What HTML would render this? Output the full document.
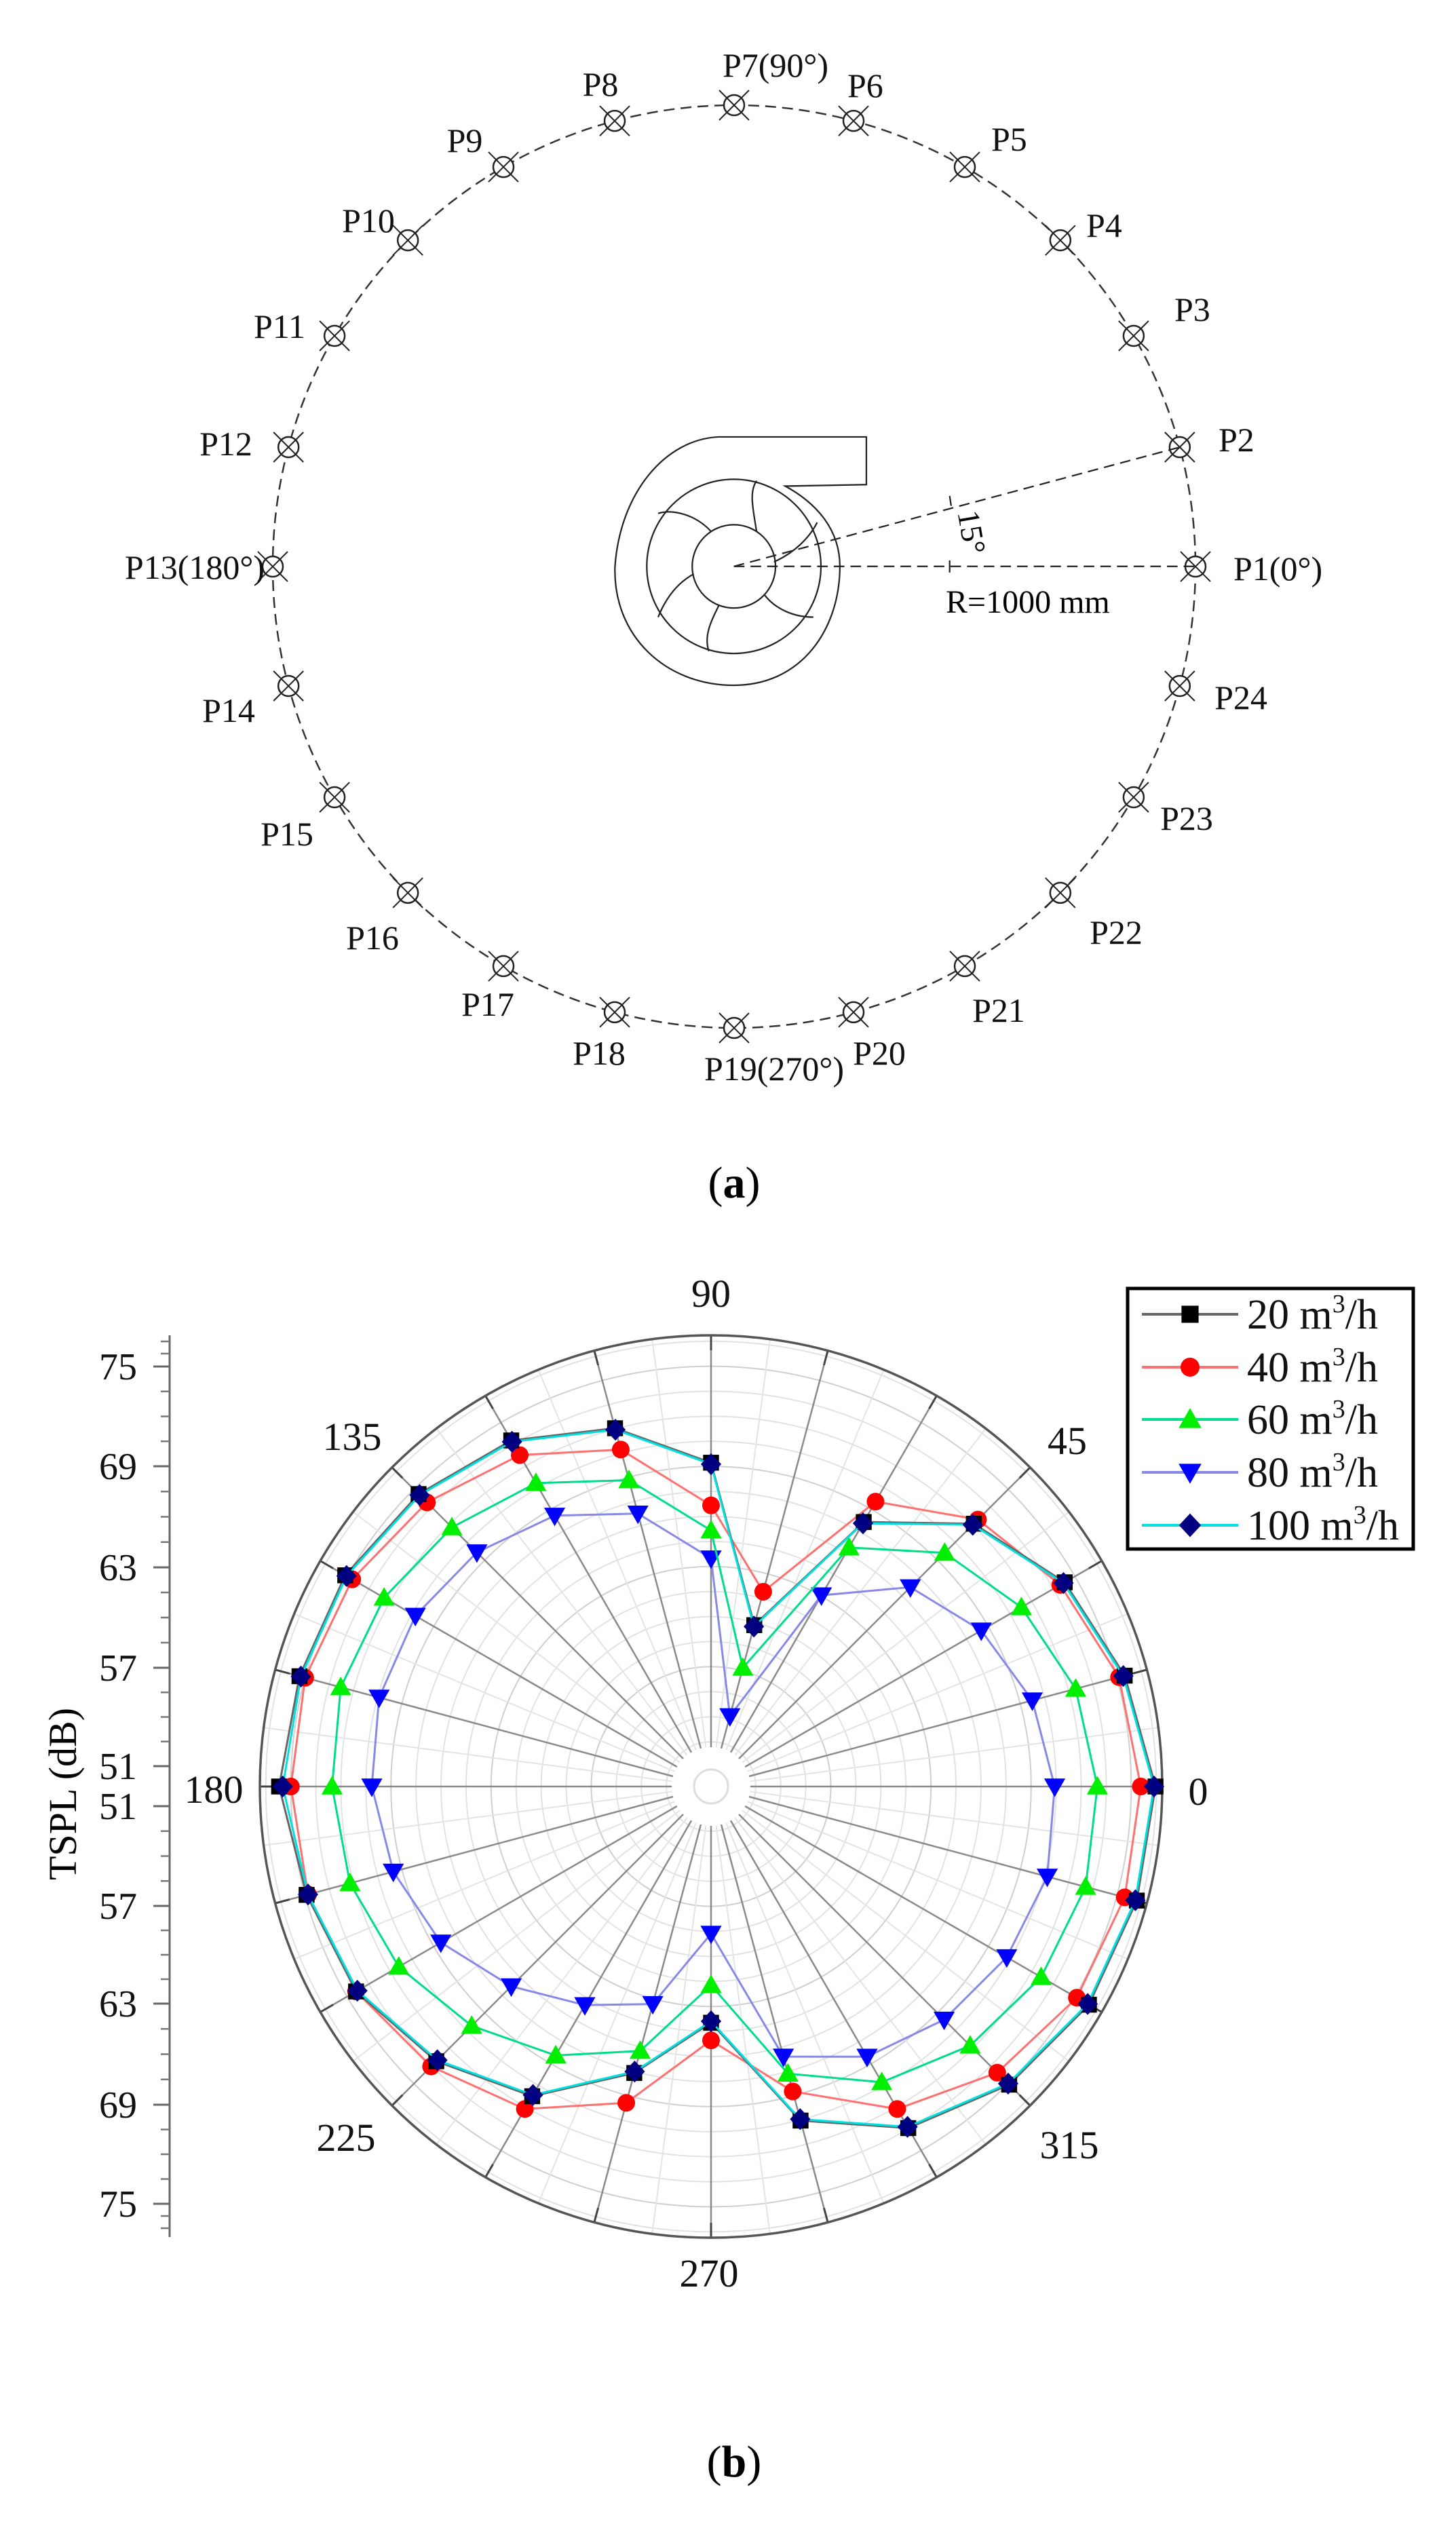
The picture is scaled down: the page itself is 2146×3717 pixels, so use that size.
<!DOCTYPE html>
<html><head><meta charset="utf-8"><style>
html,body{margin:0;padding:0;background:#fff}
svg{display:block}
</style></head><body>
<svg id="s" width="2146" height="3717" viewBox="0 0 2146 3717" xmlns="http://www.w3.org/2000/svg" font-family="Liberation Serif, serif">
<rect width="2146" height="3717" fill="#fff"/>
<g id="topg"></g>
<g transform="translate(200,0) scale(1.116)" fill="none" stroke="#222" stroke-width="2">
  <path d="M965,577 L770,577 C700,580 640,650 633,748 C630,840 700,905 790,905 C880,905 930,830 930,748 C930,700 900,665 858,642 L965,640 Z"/>
  <circle cx="790" cy="748" r="115"/>
  <circle cx="790" cy="748" r="55"/>
  <path d="M820,702 C815,670 810,650 820,635"/>
  <path d="M760,702 C740,680 710,672 690,678"/>
  <path d="M737,758 C715,770 700,790 690,815"/>
  <path d="M770,800 C760,820 750,840 757,860"/>
  <path d="M830,785 C845,805 870,815 895,815"/>
  <path d="M843,742 C870,730 890,710 900,690"/>
  <path d="M790,748 L1400,748" stroke-dasharray="14 8"/>
  <path d="M790,748 L1381,590" stroke-dasharray="14 8"/>
  <path d="M1075,655 L1077,668 M1075,740 L1075,756" />
</g>
<text x="1417" y="787" font-size="46" text-anchor="middle" transform="rotate(80 1417 787)">15°</text>
<text x="1394" y="903" font-size="48">R=1000 mm</text>
<g font-size="50" fill="#111">
<text x="1818" y="855">P1(0°)</text>
<text x="1796" y="665">P2</text>
<text x="1731" y="473">P3</text>
<text x="1601" y="349">P4</text>
<text x="1461" y="222">P5</text>
<text x="1249" y="143">P6</text>
<text x="1143" y="113" text-anchor="middle">P7(90°)</text>
<text x="885" y="141" text-anchor="middle">P8</text>
<text x="685" y="224" text-anchor="middle">P9</text>
<text x="543" y="342" text-anchor="middle">P10</text>
<text x="412" y="498" text-anchor="middle">P11</text>
<text x="333" y="671" text-anchor="middle">P12</text>
<text x="390" y="853" text-anchor="end">P13(180°)</text>
<text x="337" y="1064" text-anchor="middle">P14</text>
<text x="423" y="1246" text-anchor="middle">P15</text>
<text x="549" y="1399" text-anchor="middle">P16</text>
<text x="719" y="1497" text-anchor="middle">P17</text>
<text x="883" y="1569" text-anchor="middle">P18</text>
<text x="1141" y="1592" text-anchor="middle">P19(270°)</text>
<text x="1296" y="1569" text-anchor="middle">P20</text>
<text x="1472" y="1506" text-anchor="middle">P21</text>
<text x="1645" y="1391" text-anchor="middle">P22</text>
<text x="1749" y="1223" text-anchor="middle">P23</text>
<text x="1829" y="1045" text-anchor="middle">P24</text>
</g>
<text x="1082" y="1765" font-size="66" text-anchor="middle">(<tspan font-weight="bold">a</tspan>)</text>

<g id="grid"></g>
<g id="series"></g>
<g font-size="58" text-anchor="middle" fill="#111">
<text x="1048" y="1926">90</text>
<text x="1573" y="2143">45</text>
<text x="1766" y="2660">0</text>
<text x="519" y="2137">135</text>
<text x="315" y="2657">180</text>
<text x="510" y="3170">225</text>
<text x="1045" y="3370">270</text>
<text x="1576" y="3181">315</text>
</g>
<g id="axis"></g>
<g font-size="56" text-anchor="end" fill="#111">
<text x="202" y="2033">75</text>
<text x="202" y="2180">69</text>
<text x="202" y="2329">63</text>
<text x="202" y="2477">57</text>
<text x="202" y="2622">51</text>
<text x="202" y="2681">51</text>
<text x="202" y="2828">57</text>
<text x="202" y="2972">63</text>
<text x="202" y="3121">69</text>
<text x="202" y="3267">75</text>
</g>
<text x="112" y="2644" font-size="58" text-anchor="middle" transform="rotate(-90 112 2644)">TSPL (dB)</text>
<rect x="1662" y="1899" width="421" height="384" fill="#fff" stroke="#000" stroke-width="5"/>
<g id="legend"></g>
<g font-size="62" fill="#111">
<text x="1838" y="1958">20 m<tspan font-size="38" dy="-24">3</tspan><tspan dy="24">/h</tspan></text>
<text x="1838" y="2036">40 m<tspan font-size="38" dy="-24">3</tspan><tspan dy="24">/h</tspan></text>
<text x="1838" y="2113">60 m<tspan font-size="38" dy="-24">3</tspan><tspan dy="24">/h</tspan></text>
<text x="1838" y="2191">80 m<tspan font-size="38" dy="-24">3</tspan><tspan dy="24">/h</tspan></text>
<text x="1838" y="2269">100 m<tspan font-size="38" dy="-24">3</tspan><tspan dy="24">/h</tspan></text>
</g>
<text x="1082" y="3650" font-size="66" text-anchor="middle">(<tspan font-weight="bold">b</tspan>)</text>
</svg>
<script>
(function(){
const NS="http://www.w3.org/2000/svg";
function el(p,t,a){const e=document.createElementNS(NS,t);for(const k in a)e.setAttribute(k,a[k]);p.appendChild(e);return e;}
const topG=document.getElementById('topg');
const cx=1082,cy=835,R=680;
el(topG,'circle',{cx:cx,cy:cy,r:R,fill:'none',stroke:'#333','stroke-width':2.5,'stroke-dasharray':'16 9'});
for(let k=0;k<24;k++){const a=k*15*Math.PI/180;const x=cx+R*Math.cos(a),y=cy-R*Math.sin(a);
 el(topG,'circle',{cx:x,cy:y,r:15,fill:'#fff',stroke:'#222','stroke-width':2.5});
 el(topG,'path',{d:`M${x-22},${y-22}L${x+22},${y+22}M${x+22},${y-22}L${x-22},${y+22}`,stroke:'#222','stroke-width':2});}
const g=document.getElementById('grid');const PX=1048,PY=2633,PR=665,H=58;
for(let k=0;k<18;k++){const r=29+k*36.9;if(r<H||r>PR)continue;el(g,'circle',{cx:PX,cy:PY,r:r,fill:'none',stroke:k%4==0?'#cfcfcf':'#e2e2e2','stroke-width':2});}
for(let k=0;k<48;k++){const a=k*7.5*Math.PI/180;const c=Math.cos(a),s=Math.sin(a);const maj=k%2==0;
 el(g,'line',{x1:PX+H*c,y1:PY-H*s,x2:PX+PR*c,y2:PY-PR*s,stroke:maj?'#8a8a8a':'#e4e4e4','stroke-width':maj?2.5:2});
 if(maj)el(g,'line',{x1:PX+(PR-22)*c,y1:PY-(PR-22)*s,x2:PX+PR*c,y2:PY-PR*s,stroke:'#444','stroke-width':3});}
el(g,'circle',{cx:PX,cy:PY,r:PR,fill:'none',stroke:'#555','stroke-width':3.5});
el(g,'circle',{cx:PX,cy:PY,r:25,fill:'none',stroke:'#ddd','stroke-width':3});
const S=1.0846;
const D=[
 {c:'#8888e8',m:'#0000ff',t:'dtri',r:[467,452,424,383,300,99,310,384,425,450,464,467,461,447,424,384,343,306,200,380,424,448,464,473]},
 {c:'#00dd88',m:'#00ee00',t:'tri',r:[525,513,487,449,375,167,348,431,476,498,513,521,515,508,490,460,422,372,270,404,464,498,518,527]},
 {c:'#ff7070',m:'#ff0000',t:'cir',r:[584,574,548,513,447,274,382,474,520,546,563,571,571,567,557,538,506,445,345,429,506,550,574,582]},
 {c:'#666',m:'#000',t:'sq',r:[604,582,555,505,415,227,440,504,543,562,574,579,587,569,557,528,486,403,321,470,536,573,593,599]},
 {c:'#00e0e0',m:'#000080',t:'dia',r:[602,580,553,503,413,225,438,502,541,560,572,577,582,567,555,526,484,401,319,468,534,571,591,597]}];
function marker(p,t,x,y,col,sz){
 if(t=='sq')el(p,'rect',{x:x-sz*.45,y:y-sz*.45,width:sz*.9,height:sz*.9,fill:col});
 else if(t=='cir')el(p,'circle',{cx:x,cy:y,r:sz*.5,fill:col});
 else if(t=='tri')el(p,'path',{d:`M${x},${y-sz*.6}L${x+sz*.6},${y+sz*.45}L${x-sz*.6},${y+sz*.45}Z`,fill:col});
 else if(t=='dtri')el(p,'path',{d:`M${x},${y+sz*.6}L${x+sz*.6},${y-sz*.45}L${x-sz*.6},${y-sz*.45}Z`,fill:col});
 else el(p,'path',{d:`M${x},${y-sz*.62}L${x+sz*.58},${y}L${x},${y+sz*.62}L${x-sz*.58},${y}Z`,fill:col});}
const sg=document.getElementById('series');
D.forEach(function(d){let pts=[];d.r.forEach(function(r,i){const a=i*15*Math.PI/180;pts.push([PX+r*S*Math.cos(a),PY-r*S*Math.sin(a)]);});
 el(sg,'path',{d:'M'+pts.map(function(p){return p.join(',');}).join('L')+'Z',fill:'none',stroke:d.c,'stroke-width':3});
 pts.forEach(function(p){marker(sg,d.t,p[0],p[1],d.m,26);});});
const ax=document.getElementById('axis');
el(ax,'line',{x1:250,y1:1968,x2:250,y2:3297,stroke:'#666','stroke-width':3});
const ys=[2014,2161,2310,2458,2603];const ys2=[2662,2809,2953,3102,3248];
function ticks(arr){for(let i=0;i<arr.length;i++){el(ax,'line',{x1:226,y1:arr[i],x2:250,y2:arr[i],stroke:'#666','stroke-width':3});
 if(i<arr.length-1){const st=(arr[i+1]-arr[i])/4;for(let j=1;j<4;j++)el(ax,'line',{x1:237,y1:arr[i]+j*st,x2:250,y2:arr[i]+j*st,stroke:'#777','stroke-width':2.5});}}}
ticks(ys);ticks(ys2);
[1977,1995,3266,3284].forEach(function(y){el(ax,'line',{x1:237,y1:y,x2:250,y2:y,stroke:'#777','stroke-width':2.5});});
const lg=document.getElementById('legend');
const ly=[1937,2015,2092,2170,2248];const ord=[3,2,1,0,4];
ord.forEach(function(di,i){const d=D[di];el(lg,'line',{x1:1683,y1:ly[i],x2:1825,y2:ly[i],stroke:d.c,'stroke-width':4});marker(lg,d.t,1754,ly[i],d.m,28);});
})();
</script>
</body></html>
